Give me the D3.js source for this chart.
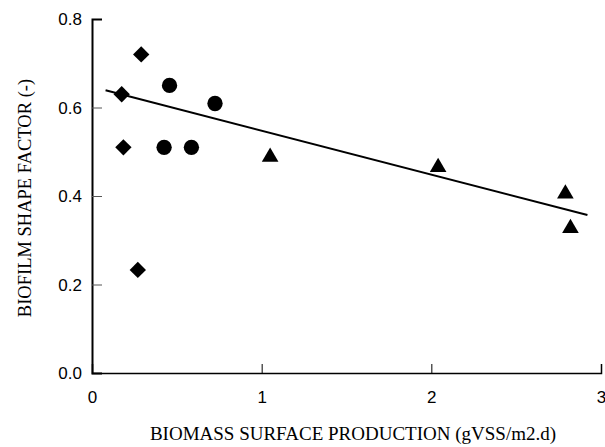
<!DOCTYPE html>
<html>
<head>
<meta charset="utf-8">
<script src="https://cdn.jsdelivr.net/npm/d3@7"></script>
<style>
  body { margin: 0; background: #fff; }
</style>
</head>
<body>
<script>
// data
var diamondX = [0.29, 0.175, 0.185, 0.27];
var diamondY = [0.72, 0.63, 0.51, 0.233];
var circleX = [0.457, 0.725, 0.425, 0.586];
var circleY = [0.65, 0.609, 0.51, 0.51];
var triangleX = [1.05, 2.04, 2.79, 2.82];
var triangleY = [0.488, 0.465, 0.405, 0.327];
var fitX = [0.08, 2.92];
var fitY = [0.639, 0.357];
var xTicks = [0, 1, 2, 3];
var yTicks = [0.0, 0.2, 0.4, 0.6, 0.8];

var W = 605, H = 447;
var svg = d3.select("body").append("svg")
    .attr("width", W)
    .attr("height", H);

var x = d3.scaleLinear().domain([0, 3]).range([92, 601]);
var y = d3.scaleLinear().domain([0, 0.8]).range([373, 19]);

var sans = "'Liberation Sans', Arial, sans-serif";
var serif = "'Liberation Serif', 'Times New Roman', serif";

// axes
var xAxis = d3.axisBottom(x).tickValues(xTicks).tickSize(-9).tickPadding(18)
    .tickFormat(d3.format("d"));
var yAxis = d3.axisLeft(y).tickValues(yTicks).tickSize(-10).tickPadding(10)
    .tickFormat(d3.format(".1f"));

var gx = svg.append("g").attr("transform", "translate(0," + y(0) + ")").call(xAxis);
var gy = svg.append("g").attr("transform", "translate(" + x(0) + ",0)").call(yAxis);

[gx, gy].forEach(function(g) {
  g.attr("font-family", sans).attr("font-size", 17);
});

gx.select(".domain").attr("stroke", "#000").attr("stroke-width", 1.5);
gy.select(".domain").attr("stroke", "#000").attr("stroke-width", 2);
gx.selectAll(".tick line").attr("stroke", "#000").attr("stroke-width", 1)
    .filter(function(d) { return d === 0; }).remove();
gy.selectAll(".tick line").attr("stroke", "#555").attr("stroke-width", 1)
    .filter(function(d) { return d === 0 || d === 0.8; }).remove();
gx.selectAll(".tick text").attr("fill", "#000");
gy.selectAll(".tick text").attr("fill", "#000").attr("dy", "0.35em");

// regression line
svg.append("line")
    .attr("x1", x(fitX[0])).attr("y1", y(fitY[0]))
    .attr("x2", x(fitX[1])).attr("y2", y(fitY[1]))
    .attr("stroke", "#000").attr("stroke-width", 2);

function pts(xs, ys) { return xs.map(function(v, i) { return [v, ys[i]]; }); }

var sym = [
  {data: pts(diamondX, diamondY), type: d3.symbolDiamond2, size: 170},
  {data: pts(circleX, circleY), type: d3.symbolCircle, size: 185},
  {data: pts(triangleX, triangleY), type: d3.symbolTriangle, size: 120}
];

sym.forEach(function(s) {
  svg.append("g").selectAll("path")
    .data(s.data)
    .enter().append("path")
    .attr("d", d3.symbol().type(s.type).size(s.size))
    .attr("transform", function(d) { return "translate(" + x(d[0]) + "," + y(d[1]) + ")"; })
    .attr("fill", "#000");
});

// axis titles
svg.append("text")
    .attr("x", 353).attr("y", 440)
    .attr("font-family", serif).attr("font-size", 19)
    .attr("text-anchor", "middle")
    .text("BIOMASS SURFACE PRODUCTION (gVSS/m2.d)");

svg.append("text")
    .attr("transform", "translate(31,198) rotate(-90)")
    .attr("font-family", serif).attr("font-size", 18.5)
    .attr("text-anchor", "middle")
    .text("BIOFILM SHAPE FACTOR (-)");
</script>
</body>
</html>
